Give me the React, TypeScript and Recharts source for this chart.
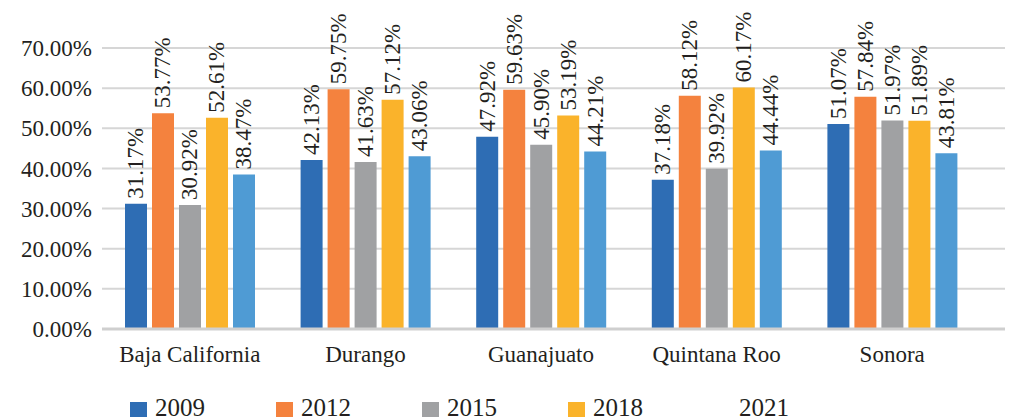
import React from "react";
import { BarChart, Bar, XAxis, YAxis, CartesianGrid, LabelList } from "recharts";

const categories = ["Baja California", "Durango", "Guanajuato", "Quintana Roo", "Sonora"];
const years = ["2009", "2012", "2015", "2018", "2021"];
const values2009 = [31.17, 42.13, 47.92, 37.18, 51.07];
const values2012 = [53.77, 59.75, 59.63, 58.12, 57.84];
const values2015 = [30.92, 41.63, 45.9, 39.92, 51.97];
const values2018 = [52.61, 57.12, 53.19, 60.17, 51.89];
const values2021 = [38.47, 43.06, 44.21, 44.44, 43.81];
const yTicks = [0, 10, 20, 30, 40, 50, 60, 70];

const colors = ["#2e6db4", "#f4823e", "#a0a1a3", "#fab32b", "#4f9bd4"];
// the source legend shows no swatch for 2021
const legendSwatch = ["#2e6db4", "#f4823e", "#a0a1a3", "#fab32b", "transparent"];
const FONT = "Times New Roman, Liberation Serif, DejaVu Serif, Noto Serif, serif";
const TEXT = "#231f20";

const allValues = [values2009, values2012, values2015, values2018, values2021];

const data = categories.map((name, i) => {
  const row: Record<string, string | number> = { name };
  years.forEach((y, k) => {
    row["y" + y] = allValues[k][i];
  });
  return row;
});

const RotatedLabel = (props: any) => {
  const { x, y, width, value } = props;
  const cx = Number(x) + Number(width) / 2;
  const ty = Number(y) - 5;
  return (
    <text
      x={cx}
      y={ty}
      transform={`rotate(-90 ${cx} ${ty})`}
      textAnchor="start"
      dominantBaseline="central"
      fontSize={23}
      fontFamily={FONT}
      fill={TEXT}
    >
      {Number(value).toFixed(2)}%
    </text>
  );
};

export default function App() {
  return (
    <div style={{ position: "absolute", left: 0, top: 0, width: 1009, height: 419, background: "#fff", fontFamily: FONT }}>
      <BarChart
        width={1009}
        height={419}
        data={data}
        margin={{ top: 48, right: 4, left: 0, bottom: 50 }}
        barSize={22}
        barGap={5}
        style={{ fontFamily: FONT }}
      >
        <CartesianGrid vertical={false} stroke="#d6d6d6" strokeWidth={2} />
        <XAxis
          dataKey="name"
          axisLine={{ stroke: "#cfcfcf", strokeWidth: 3 }}
          tickLine={false}
          tickMargin={11}
          height={40}
          padding={{ left: 0, right: 25 }}
          tick={{ fill: TEXT, fontSize: 23, fontFamily: FONT }}
          interval={0}
        />
        <YAxis
          domain={[0, 70]}
          ticks={yTicks}
          axisLine={false}
          tickLine={false}
          tickMargin={4}
          width={102}
          tick={{ fill: TEXT, fontSize: 23, fontFamily: FONT }}
          tickFormatter={(v: number) => `${v.toFixed(2)}%`}
        />
        {years.map((y, k) => (
          <Bar key={y} dataKey={"y" + y} name={y} fill={colors[k]} isAnimationActive={false}>
            <LabelList dataKey={"y" + y} content={RotatedLabel} />
          </Bar>
        ))}
      </BarChart>
      <div
        style={{
          position: "absolute",
          top: 396,
          left: 130,
          display: "flex",
          fontSize: 25,
          color: TEXT,
          lineHeight: "24px",
        }}
      >
        {years.map((y, k) => (
          <div key={y} style={{ width: 146, display: "flex", alignItems: "flex-end" }}>
            <span
              style={{
                display: "inline-block",
                width: 17,
                height: 15,
                background: legendSwatch[k],
                marginRight: 8,
                marginBottom: 3,
              }}
            />
            <span>{y}</span>
          </div>
        ))}
      </div>
    </div>
  );
}
